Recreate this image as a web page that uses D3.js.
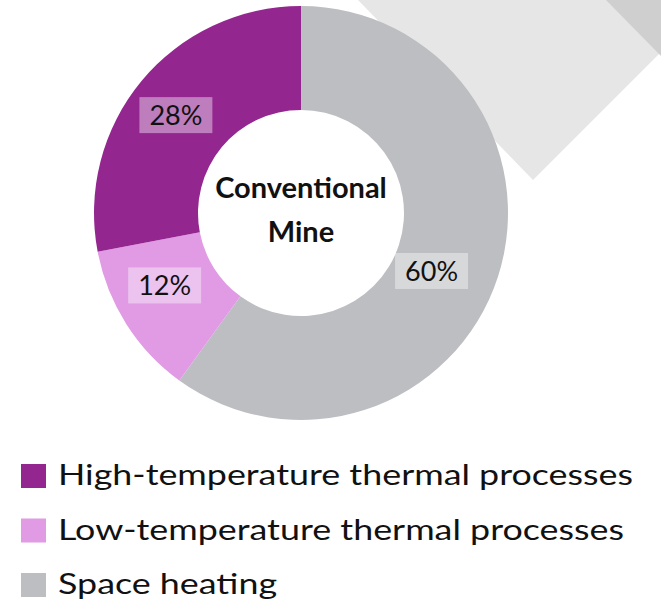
<!DOCTYPE html>
<html>
<head>
<meta charset="utf-8">
<script src="https://cdn.jsdelivr.net/npm/d3@7"></script>
<style>
  html, body { margin: 0; padding: 0; background: #fff; }
  svg { display: block; font-family: Lato, "Open Sans", sans-serif; }
</style>
</head>
<body>
<div id="chart"></div>
<script>
// data
const categories = ["Space heating", "Low-temperature thermal processes", "High-temperature thermal processes"];
const shares = [60, 12, 28];
const colors = ["#bdbec2", "#e09be4", "#93278f"];
const legendOrder = ["High-temperature thermal processes", "Low-temperature thermal processes", "Space heating"];
const centerTitle = ["Conventional", "Mine"];

const width = 661, height = 600;
const cx = 301, cy = 213;
const outerR = 207, innerR = 103;

const svg = d3.select("#chart")
  .append("svg")
  .attr("width", width)
  .attr("height", height);

// background decoration, top right
svg.append("polygon")
  .attr("points", "358,0 661,0 661,52 533,180")
  .attr("fill", "#e6e6e6");
svg.append("polygon")
  .attr("points", "606,0 661,0 661,56")
  .attr("fill", "#cfcfd0");

const color = d3.scaleOrdinal().domain(categories).range(colors);

const data = categories.map((c, i) => ({ cat: c, value: shares[i] }));

const pie = d3.pie()
  .value(d => d.value)
  .sort(null);

const arc = d3.arc()
  .innerRadius(innerR)
  .outerRadius(outerR);

const labelArc = d3.arc()
  .innerRadius(152)
  .outerRadius(152);

const g = svg.append("g")
  .attr("transform", "translate(" + cx + "," + cy + ")");

const arcs = pie(data);

g.selectAll("path.slice")
  .data(arcs)
  .join("path")
  .attr("class", "slice")
  .attr("fill", d => color(d.data.cat))
  .attr("d", arc);

// small nudges so labels sit like the original "best fit" ones
const nudge = {
  "Space heating": [-14, 11],
  "Low-temperature thermal processes": [-8, -9],
  "High-temperature thermal processes": [-8, -1]
};

const labels = g.selectAll("g.lbl")
  .data(arcs)
  .join("g")
  .attr("class", "lbl")
  .attr("transform", d => {
    const c = labelArc.centroid(d);
    const n = nudge[d.data.cat];
    return "translate(" + (c[0] + n[0]) + "," + (c[1] + n[1]) + ")";
  });

labels.append("rect")
  .attr("fill", "#fff")
  .attr("fill-opacity", 0.4);

labels.append("text")
  .attr("text-anchor", "middle")
  .attr("dy", "0.36em")
  .attr("font-size", 27)
  .attr("fill", "#111")
  .text(d => d.data.value + "%");

labels.each(function() {
  const t = d3.select(this).select("text");
  const w = t.node().getComputedTextLength();
  d3.select(this).select("rect")
    .attr("x", -w / 2 - 10)
    .attr("y", -18)
    .attr("width", w + 20)
    .attr("height", 36);
});

// center title
g.selectAll("text.title")
  .data(centerTitle)
  .join("text")
  .attr("class", "title")
  .attr("text-anchor", "middle")
  .attr("y", (d, i) => -15 + i * 44)
  .attr("font-size", 29)
  .attr("font-weight", "bold")
  .attr("fill", "#111")
  .text(d => d);

// legend
const legend = svg.append("g")
  .attr("transform", "translate(21,464)");

const rows = legend.selectAll("g")
  .data(legendOrder)
  .join("g")
  .attr("transform", (d, i) => "translate(0," + i * 54.5 + ")");

rows.append("rect")
  .attr("width", 25)
  .attr("height", 24)
  .attr("fill", d => color(d));

rows.append("text")
  .attr("x", 37)
  .attr("y", 21)
  .attr("font-size", 29)
  .attr("fill", "#111")
  .text(d => d);

// fit legend text to the original width (first row ~575px)
const first = rows.select("text").node();
const wFirst = first.getComputedTextLength();
const fs = 29 * 575 / wFirst;
rows.selectAll("text")
  .attr("font-size", 29)
  .attr("textLength", function() { return this.getComputedTextLength() * fs / 29; })
  .attr("lengthAdjust", "spacingAndGlyphs");
</script>
</body>
</html>
